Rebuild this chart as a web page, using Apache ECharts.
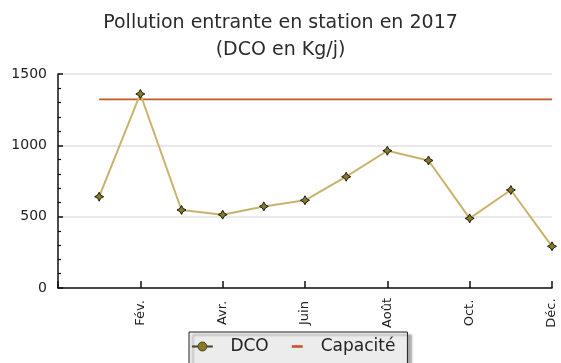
<!DOCTYPE html>
<html>
<head>
<meta charset="utf-8">
<script src="https://cdn.jsdelivr.net/npm/echarts@6/dist/echarts.min.js"></script>
<style>
  html, body { margin: 0; padding: 0; background: #ffffff; }
  #chart { width: 561px; height: 363px; }
</style>
</head>
<body>
<div id="chart"></div>
<script>
// Monthly incoming load (DCO, kg/day) for 2017
const months = ['Janv.', 'Fév.', 'Mars', 'Avr.', 'Mai', 'Juin', 'Juil.', 'Août', 'Sept.', 'Oct.', 'Nov.', 'Déc.'];
const dcoValues = [640, 1360, 547, 514, 572, 615, 780, 962, 894, 488, 687, 292];
const capacityValue = 1322;
const yTicks = [0, 500, 1000, 1500];

const FONT = 'DejaVu Sans, sans-serif';

// x position of each month: Jan = 1 ... Dec = 12
const dcoData = dcoValues.map((v, i) => [i + 1, v]);
const capacityData = months.map((m, i) => [i + 1, capacityValue]);

// four-pointed marker
const starPath = 'path://M0,-10 L3.5,-3.5 L10,0 L3.5,3.5 L0,10 L-3.5,3.5 L-10,0 L-3.5,-3.5 Z';

// legend icons; the leading moves fix the icon box size
const dcoIcon = 'path://M0,0 M33,12 M0,5.4 H5 V6.6 H0 Z M10,6 m-4.5,0 a4.5,4.5 0 1,0 9,0 a4.5,4.5 0 1,0 -9,0 Z M15,5.4 H20 V6.6 H15 Z';
const capIcon = 'path://M0,0 M33,12 M9,4.7 H20 V7.3 H9 Z';

const chart = echarts.init(document.getElementById('chart'), null, { renderer: 'canvas' });

chart.setOption({
  animation: false,
  backgroundColor: '#ffffff',
  title: {
    text: 'Pollution entrante en station en 2017\n(DCO en Kg/j)',
    left: 'center',
    top: 5,
    textStyle: {
      fontFamily: FONT,
      fontSize: 19,
      fontWeight: 'normal',
      color: '#2b2b2b',
      lineHeight: 27,
      align: 'center'
    }
  },
  grid: {
    left: 58,
    right: 9,
    top: 74,
    bottom: 75,
    containLabel: false
  },
  xAxis: {
    type: 'value',
    min: 0,
    max: 12,
    interval: 2,
    axisLine: { show: true, onZero: false, lineStyle: { color: '#111111', width: 1.5 } },
    axisTick: { show: true, inside: true, length: 7, lineStyle: { color: '#111111', width: 1.5 } },
    splitLine: { show: false },
    axisLabel: {
      rotate: 90,
      margin: 25,
      align: 'center',
      verticalAlign: 'middle',
      fontFamily: FONT,
      fontSize: 13,
      color: '#222222',
      formatter: function (v) { return v >= 1 ? months[v - 1] : ''; }
    }
  },
  yAxis: {
    type: 'value',
    min: yTicks[0],
    max: yTicks[yTicks.length - 1],
    interval: 500,
    axisLine: { show: true, lineStyle: { color: '#111111', width: 1.5 } },
    axisTick: { show: true, inside: true, length: 5, lineStyle: { color: '#111111', width: 1.5 } },
    minorTick: { show: true, splitNumber: 5, length: 3, lineStyle: { color: '#111111', width: 1.2 } },
    splitLine: { show: true, lineStyle: { color: '#e2e2e2', width: 1.5 } },
    axisLabel: {
      margin: 11,
      fontFamily: FONT,
      fontSize: 14,
      color: '#222222',
      formatter: function (v) { return String(v); }
    }
  },
  legend: {
    left: 189,
    top: 332,
    orient: 'horizontal',
    padding: [6, 12, 14, 3],
    itemGap: 14,
    itemWidth: 33,
    itemHeight: 12,
    itemTextGap: 5,
    backgroundColor: '#ececec',
    borderColor: '#222222',
    borderWidth: 1,
    borderRadius: 0,
    shadowColor: 'rgba(0,0,0,0.35)',
    shadowBlur: 2,
    shadowOffsetX: 4,
    shadowOffsetY: 3,
    textStyle: { fontFamily: FONT, fontSize: 17, color: '#222222' },
    data: [
      { name: 'DCO', icon: dcoIcon, itemStyle: { color: '#8a7822', borderColor: '#2a2a10', borderWidth: 0.8 } },
      { name: 'Capacité', icon: capIcon, itemStyle: { color: '#c4562b', borderWidth: 0 } }
    ]
  },
  series: [
    {
      name: 'DCO',
      type: 'line',
      data: dcoData,
      symbol: starPath,
      symbolSize: 9,
      showAllSymbol: true,
      lineStyle: { color: '#c8b36c', width: 2 },
      itemStyle: { color: '#8a7822', borderColor: '#1a1a1a', borderWidth: 1 },
      z: 3
    },
    {
      name: 'Capacité',
      type: 'line',
      data: capacityData,
      symbol: 'none',
      lineStyle: { color: '#c4562b', width: 1.8 },
      itemStyle: { color: '#c4562b' },
      z: 2
    }
  ]
});
</script>
</body>
</html>
